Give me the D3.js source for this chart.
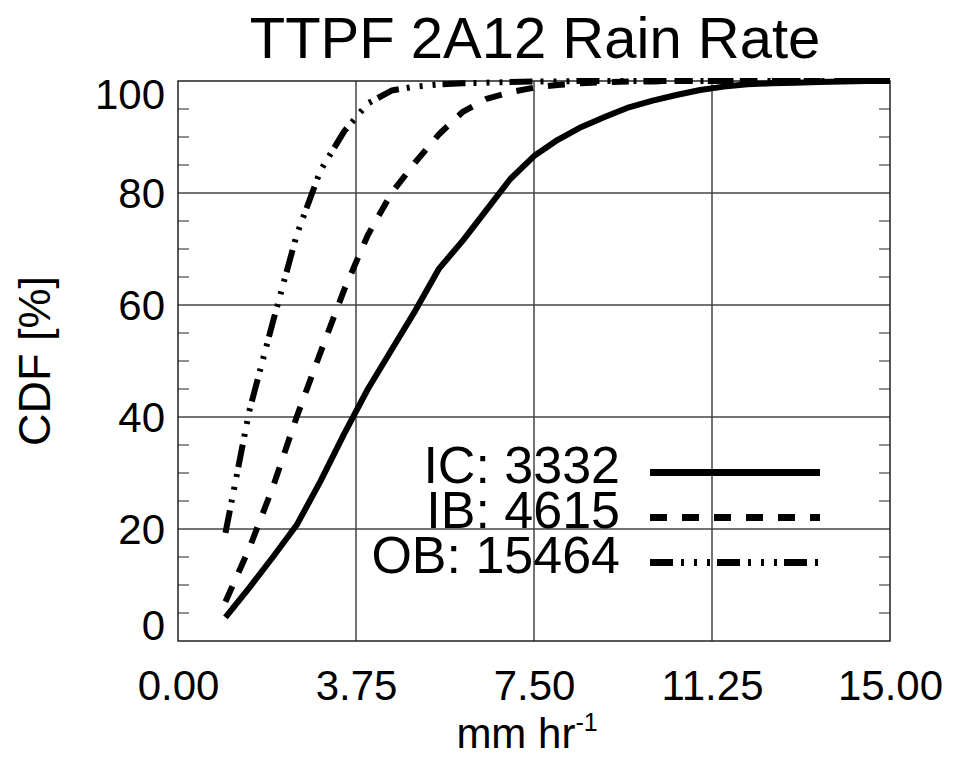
<!DOCTYPE html>
<html>
<head>
<meta charset="utf-8">
<script src="https://d3js.org/d3.v7.min.js"></script>
<title>TTPF 2A12 Rain Rate</title>
<style type="text/css">
  body { margin: 0; background: #fff; }
  svg text { font-family: "Liberation Sans", Arial, sans-serif; fill: #000; }
</style>
</head>
<body>
<div id="chart"></div>
<script>
// rain rate samples (mm/hr) and CDF values (%) per group
var rates = [1.0, 1.5, 2.0, 2.5, 3.0, 3.5, 4.0, 4.5, 5.0, 5.5, 6.0, 6.5, 7.0, 7.5, 8.0,
             8.5, 9.0, 9.5, 10.0, 10.5, 11.0, 11.5, 12.0, 12.5, 13.0, 13.5, 14.0, 14.5, 15.0];
var cdfIC = [4.2, 9.5, 15, 20.7, 28.5, 37, 45, 52, 59, 66.5, 71.5, 77, 82.5, 86.6, 89.5,
             91.8, 93.6, 95.3, 96.5, 97.5, 98.4, 99.0, 99.4, 99.6, 99.7, 99.8, 99.9, 100, 100];
var cdfIB = [7, 16.5, 27.5, 40, 51.5, 62.7, 72.5, 80, 85.5, 90.5, 94.5, 96.8, 98, 98.8, 99.3,
             99.6, 99.8, 99.9, 99.9, 100, 100, 100, 100, 100, 100, 100, 100, 100, 100];
var cdfOB = [19.3, 41, 57, 72.5, 84, 91, 96, 98.3, 99, 99.4, 99.6, 99.7, 99.8, 99.9, 99.9,
             100, 100, 100, 100, 100, 100, 100, 100, 100, 100, 100, 100, 100, 100];

var seriesNames = ["IC: 3332", "IB: 4615", "OB: 15464"];
var xTicks = [0, 3.75, 7.5, 11.25, 15];
var yTicks = [0, 20, 40, 60, 80, 100];
var yMinor = [5, 10, 15, 25, 30, 35, 45, 50, 55, 65, 70, 75, 85, 90, 95];

var width = 956, height = 757;
var x0 = 178, x1 = 890, yTop = 81, yBot = 641;

var svg = d3.select("#chart").append("svg")
  .attr("width", width)
  .attr("height", height);

var x = d3.scaleLinear().domain([0, 15]).range([x0, x1]);
var y = d3.scaleLinear().domain([0, 100]).range([yBot, yTop]);

// grid lines
svg.append("g").selectAll("line.vg")
  .data(xTicks.slice(1, -1)).enter().append("line")
  .attr("x1", function(d) { return x(d); }).attr("x2", function(d) { return x(d); })
  .attr("y1", yTop).attr("y2", yBot)
  .attr("stroke", "#444").attr("stroke-width", 1.5);
svg.append("g").selectAll("line.hg")
  .data(yTicks.slice(1, -1)).enter().append("line")
  .attr("x1", x0).attr("x2", x1)
  .attr("y1", function(d) { return y(d); }).attr("y2", function(d) { return y(d); })
  .attr("stroke", "#444").attr("stroke-width", 1.5);

// minor ticks left and right
svg.append("g").selectAll("line")
  .data(yMinor).enter().append("line")
  .attr("x1", x0).attr("x2", x0 + 11)
  .attr("y1", function(d) { return y(d); }).attr("y2", function(d) { return y(d); })
  .attr("stroke", "#555").attr("stroke-width", 1.3);
svg.append("g").selectAll("line")
  .data(yMinor).enter().append("line")
  .attr("x1", x1 - 11).attr("x2", x1)
  .attr("y1", function(d) { return y(d); }).attr("y2", function(d) { return y(d); })
  .attr("stroke", "#555").attr("stroke-width", 1.3);

// frame
svg.append("rect")
  .attr("x", x0).attr("y", yTop)
  .attr("width", x1 - x0).attr("height", yBot - yTop)
  .attr("fill", "none").attr("stroke", "#222").attr("stroke-width", 1.5);

// x axis labels
var xAxis = svg.append("g")
  .attr("transform", "translate(0," + yBot + ")")
  .call(d3.axisBottom(x).tickValues(xTicks).tickSize(0).tickPadding(29)
        .tickFormat(d3.format(".2f")));
xAxis.select(".domain").remove();
xAxis.selectAll("text").style("font-size", "42px").attr("font-family", null);

// y axis labels (IDL shifts the end labels inward)
var yAxis = svg.append("g")
  .attr("transform", "translate(" + x0 + ",0)")
  .call(d3.axisLeft(y).tickValues(yTicks).tickSize(0).tickPadding(13));
yAxis.select(".domain").remove();
yAxis.selectAll("text").style("font-size", "42px").attr("font-family", null)
  .attr("dy", function(d) { return d == 100 ? 27 : (d == 0 ? -2 : 14); });

// curves
var line = d3.line()
  .x(function(d) { return x(d[0]); })
  .y(function(d) { return y(d[1]); });
var dashes = [null, "17,15", "23,8,3,10,3,10,3,7"];
[cdfIC, cdfIB, cdfOB].forEach(function(vals, i) {
  svg.append("path")
    .datum(rates.map(function(r, j) { return [r, vals[j]]; }))
    .attr("d", line)
    .attr("fill", "none")
    .attr("stroke", "#000")
    .attr("stroke-width", 6)
    .attr("stroke-linejoin", "round")
    .attr("stroke-dasharray", dashes[i]);
});

// legend
var legBase = [483, 528, 573];
seriesNames.forEach(function(name, i) {
  svg.append("text")
    .attr("x", 620).attr("y", legBase[i])
    .attr("text-anchor", "end")
    .style("font-size", "52px")
    .text(name);
  svg.append("line")
    .attr("x1", 650).attr("x2", 820)
    .attr("y1", legBase[i] - 10.5).attr("y2", legBase[i] - 10.5)
    .attr("stroke", "#000").attr("stroke-width", 7)
    .attr("stroke-dasharray", dashes[i]);
});

// titles
svg.append("text")
  .attr("x", 535).attr("y", 58)
  .attr("text-anchor", "middle")
  .style("font-size", "58px")
  .text("TTPF 2A12 Rain Rate");

var xl = svg.append("text")
  .attr("x", 527).attr("y", 748)
  .attr("text-anchor", "middle")
  .style("font-size", "42px");
xl.append("tspan").text("mm hr");
xl.append("tspan").attr("dy", -17).style("font-size", "25px").text("-1");

svg.append("text")
  .attr("transform", "translate(50,361) rotate(-90)")
  .attr("text-anchor", "middle")
  .style("font-size", "45px")
  .text("CDF [%]");
</script>
</body>
</html>
